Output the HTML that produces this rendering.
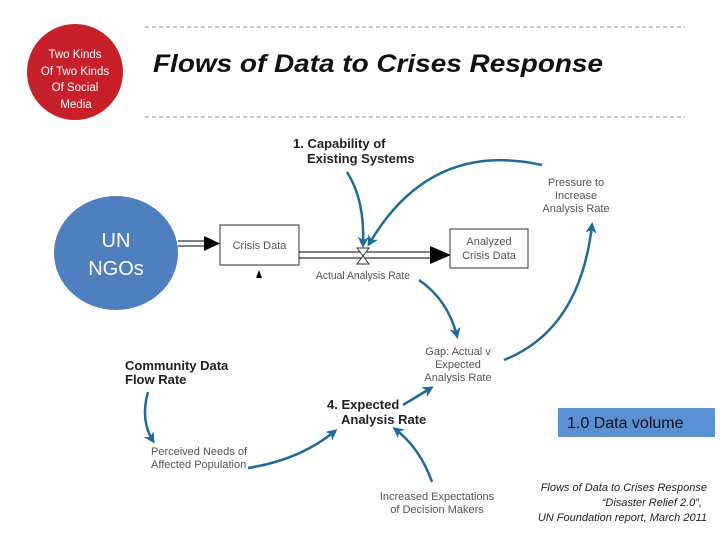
<!DOCTYPE html>
<html><head><meta charset="utf-8"><style>
html,body{margin:0;padding:0;background:#fff;}
svg{display:block;}
text{font-family:"Liberation Sans",sans-serif;}
.g{fill:#555;font-size:11px;}
.b{fill:#222;font-size:13px;font-weight:bold;}
.arr{fill:none;stroke:#1f6b98;stroke-width:2.5;}
</style></head><body>
<svg width="720" height="540" viewBox="0 0 720 540" xmlns="http://www.w3.org/2000/svg">
<defs>
<marker id="a" markerWidth="11" markerHeight="11" refX="8" refY="5.5" orient="auto" markerUnits="userSpaceOnUse" viewBox="0 0 11 11">
<path d="M0,0 L11,5.5 L0,11 L3,5.5 Z" fill="#1f6b98"/></marker>
</defs>
<rect width="720" height="540" fill="#fff"/>
<line x1="145" y1="27" x2="685" y2="27" stroke="#999" stroke-dasharray="4,3"/>
<line x1="145" y1="117" x2="685" y2="117" stroke="#999" stroke-dasharray="4,3"/>
<ellipse cx="75" cy="72" rx="48" ry="48" fill="#c8202a"/>
<g fill="#fff" font-size="11.5" text-anchor="middle">
<text x="75" y="58">Two Kinds</text><text x="75" y="75">Of Two Kinds</text><text x="75" y="91">Of Social</text><text x="76" y="108">Media</text></g>
<text x="153" y="72" font-size="25" font-weight="bold" font-style="italic" fill="#111" textLength="450" lengthAdjust="spacingAndGlyphs">Flows of Data to Crises Response</text>

<ellipse cx="116" cy="253" rx="62" ry="57" fill="#4f7fbf"/>
<g fill="#fff" font-size="20" text-anchor="middle"><text x="116" y="247">UN</text><text x="116" y="275">NGOs</text></g>
<line x1="178" y1="241" x2="206" y2="241" stroke="#000"/><line x1="178" y1="246" x2="206" y2="246" stroke="#000"/>
<path d="M204,236 L220,243.5 L204,251 Z" fill="#000"/>
<rect x="220" y="225" width="79" height="40" fill="#fff" stroke="#333"/>
<text x="259.5" y="249" class="g" text-anchor="middle" font-size="12">Crisis Data</text>
<path d="M256,278 L259,270 L262,278 Z" fill="#000"/>
<line x1="299" y1="252" x2="432" y2="252" stroke="#000"/><line x1="299" y1="258" x2="432" y2="258" stroke="#000"/>
<path d="M430,246 L451,255 L430,264 Z" fill="#000"/>
<path d="M357,248 L369,248 L357,264 L369,264 Z" fill="#fff" stroke="#333"/>
<rect x="450" y="229" width="78" height="39" fill="#fff" stroke="#333"/>
<text x="489" y="245" class="g" text-anchor="middle" font-size="12">Analyzed</text>
<text x="489" y="259" class="g" text-anchor="middle" font-size="12">Crisis Data</text>
<text x="316" y="279" class="g" font-size="12" textLength="94" lengthAdjust="spacingAndGlyphs">Actual Analysis Rate</text>
<text x="293" y="148" class="b">1. Capability of</text><text x="307" y="163" class="b">Existing Systems</text>
<g class="g" text-anchor="middle"><text x="576" y="186">Pressure to</text><text x="576" y="199">Increase</text><text x="576" y="212">Analysis Rate</text></g>
<g class="g" text-anchor="middle"><text x="458" y="355">Gap: Actual v</text><text x="458" y="368">Expected</text><text x="458" y="381">Analysis Rate</text></g>
<text x="125" y="370" class="b">Community Data</text><text x="125" y="384" class="b">Flow Rate</text>
<text x="151" y="455" class="g">Perceived Needs of</text><text x="151" y="468" class="g">Affected Population</text>
<text x="327" y="409" class="b" font-size="14">4. Expected</text><text x="341" y="424" class="b" font-size="14">Analysis Rate</text>
<g class="g" text-anchor="middle"><text x="437" y="500">Increased Expectations</text><text x="437" y="513">of Decision Makers</text></g>

<path class="arr" marker-end="url(#a)" d="M347,172 Q365,200 363,245"/>
<path class="arr" marker-end="url(#a)" d="M542,165 Q430,140 369,244"/>
<path class="arr" marker-end="url(#a)" d="M419,280 Q448,300 457,336"/>
<path class="arr" marker-end="url(#a)" d="M504,360 Q580,330 592,225"/>
<path class="arr" marker-end="url(#a)" d="M148,392 Q140,420 153,441"/>
<path class="arr" marker-end="url(#a)" d="M248,468 Q300,460 335,431"/>
<path class="arr" marker-end="url(#a)" d="M403,405 L431,388"/>
<path class="arr" marker-end="url(#a)" d="M432,482 Q420,448 395,429"/>

<rect x="558" y="408" width="157" height="29" fill="#5b8fd4"/>
<text x="567" y="428" font-size="16" fill="#111">1.0 Data volume</text>
<g font-size="11" font-style="italic" fill="#222" text-anchor="end">
<text x="707" y="491">Flows of Data to Crises Response</text>
<text x="702" y="506">“Disaster Relief 2.0”,</text>
<text x="707" y="521">UN Foundation report, March 2011</text></g>
</svg>
</body></html>
